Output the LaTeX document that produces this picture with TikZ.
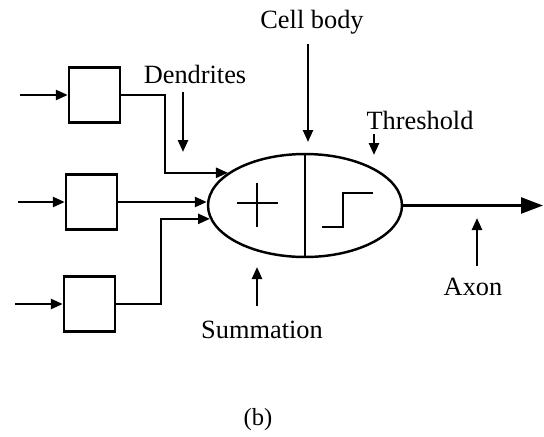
\documentclass[tikz,border=0pt]{standalone}
\usepackage{fontspec}
\setmainfont{Liberation Serif}
\usetikzlibrary{shapes.geometric,arrows.meta,positioning}

\begin{document}
\begin{tikzpicture}[x=0.02cm, y=-0.02cm, line width=1.4pt,
    arr/.style={-{Triangle[length=0.24cm,width=0.2cm]}},
    bigarr/.style={-{Triangle[length=0.44cm,width=0.32cm]}},
    inbox/.style={draw, rectangle, minimum width=1.02cm, minimum height=1.1cm, inner sep=0pt},
    lbl/.style={font=\fontsize{15}{18}\selectfont, inner sep=2pt}]
\useasboundingbox (0,0) rectangle (544,436);

% Input boxes
\node[inbox] (box1) at (94.5,95) {};
\node[inbox] (box2) at (91.5,202) {};
\node[inbox] (box3) at (89.5,304) {};
\coordinate (in1) at (20,95);
\coordinate (in2) at (18,202);
\coordinate (in3) at (15,304);

% Cell body
\node[draw, ellipse, minimum width=3.88cm, minimum height=2.06cm, inner sep=0pt] (body) at (305,205.5) {};
\draw (body.north) -- (body.south);
\draw (237,203) -- (278,203) (257,183) -- (257,227);
\draw (322,227) -- (343,227) -- (343,193) -- (373,193);
\coordinate (out) at (543,205.5);

% Labels
\node[lbl] (dend) at (195,74) {Dendrites};
\node[lbl] (cell) at (312,22) {Cell body};
\node[lbl] (thresh) at (420,120) {Threshold};
\node[lbl] (summ) at (262,330) {Summation};
\node[lbl] (axon) at (473,287) {Axon};
\node[font=\fontsize{14}{17}\selectfont] (cap) at (258,420) {(b)};
\coordinate (dendtip) at (183,152);
\coordinate (celltip) at (308,142);
\coordinate (threshtip) at (374,155);
\coordinate (sumtip) at (257,267);
\coordinate (axontip) at (477,218);

% Arrows
\draw[arr] (in1) -- (box1);
\draw[arr] (in2) -- (box2);
\draw[arr] (in3) -- (box3);
\draw[arr] (box1.east) -- ++(44,0) |- (body.157);
\draw[arr] (box2.east) -- (box2.east -| body.west);
\draw[arr] (box3.east) -- ++(45,0) |- (body.188);
\draw[bigarr] (body.east) -- (out);
\draw[arr, shorten <=2pt] (dend.south -| dendtip) -- (dendtip);
\draw[arr, shorten <=3pt] (cell.south -| celltip) -- (celltip);
\draw[arr] (thresh.south -| threshtip) -- (threshtip);
\draw[arr, shorten <=6pt] (summ.north -| sumtip) -- (sumtip);
\draw[arr, shorten <=4pt] (axon.north -| axontip) -- (axontip);
\end{tikzpicture}
\end{document}
